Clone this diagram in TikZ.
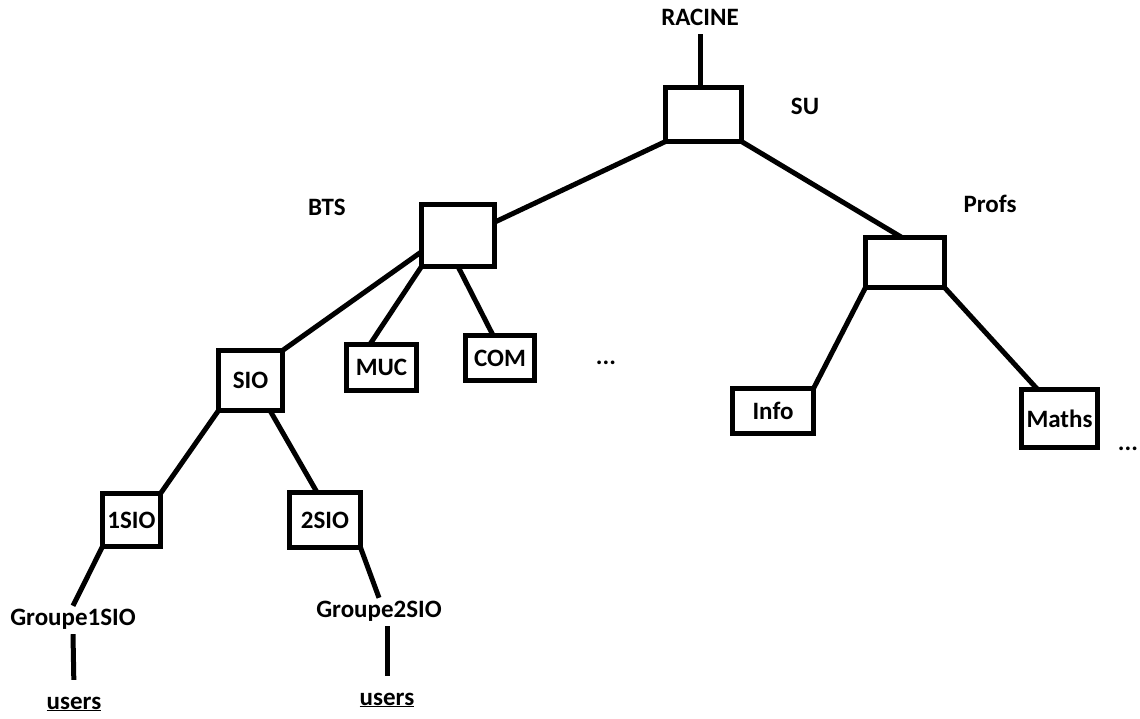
\documentclass[tikz,border=0pt]{standalone}
\usepackage{fontspec}
\setmainfont{Carlito}
\begin{document}
\begin{tikzpicture}[x=1pt,y=-1pt,
  every node/.style={font=\fontsize{25}{29}\selectfont\bfseries},
  box/.style={draw,line width=5pt,inner sep=0pt,outer sep=0pt},
  lbl/.style={inner sep=3pt,text height=16pt,text depth=6pt},
  link/.style={line width=5pt}]
\useasboundingbox (0,0) rectangle (1140,718);
% root
\node[lbl] (racine) at (700,20) {RACINE};
\node[box,minimum width=76pt,minimum height=54pt] (su) at (703.5,114.5) {};
\node[lbl] (sulbl) at (805,109) {SU};
% BTS branch
\node[box,minimum width=73pt,minimum height=62pt] (bts) at (458,235.5) {};
\node[lbl] (btslbl) at (327,210) {BTS};
\node[box,minimum width=64pt,minimum height=60pt] (sio) at (250.5,380.5) {SIO};
\node[box,minimum width=70pt,minimum height=46pt] (muc) at (381.5,367.5) {MUC};
\node[box,minimum width=69pt,minimum height=45pt] (com) at (500,358) {COM};
\node[lbl,anchor=base] (dots1) at (606,364) {...};
% SIO years
\node[box,minimum width=58pt,minimum height=53pt] (sio1) at (131.5,520) {1SIO};
\node[box,minimum width=71pt,minimum height=55pt] (sio2) at (325,520) {2SIO};
\node[lbl,anchor=base] (grp1) at (73,625) {Groupe1SIO};
\node[lbl,anchor=base] (grp2) at (379,617) {Groupe2SIO};
\node[lbl,anchor=base] (usr1) at (74,709) {\underline{users}};
\node[lbl,anchor=base] (usr2) at (387,705) {\underline{users}};
% Profs branch
\node[box,minimum width=79pt,minimum height=50pt] (profs) at (905,262.5) {};
\node[lbl] (profslbl) at (990,207) {Profs};
\node[box,minimum width=81pt,minimum height=45pt] (info) at (773,411) {Info};
\node[box,minimum width=76pt,minimum height=58pt] (maths) at (1059.5,418.5) {Maths};
\node[lbl,anchor=base] (dots2) at (1128,450) {...};
% lines
\draw[link] (racine.south) -- (racine.south |- su.north);
\draw[link] (su.south west) -- (bts.20);
\draw[link] (su.south east) -- (profs.97);
\draw[link] (bts.204) -- (sio.north east);
\draw[link] (bts.south west) -- (muc.117);
\draw[link] (bts.south) -- (com.107);
\draw[link] (sio.south west) -- (sio1.north east);
\draw[link] (sio.303) -- (sio2.106);
\draw[link] (sio1.south west) -- (grp1.north);
\draw[link] (sio2.south east) -- (grp2.north);
\draw[link,shorten >=10pt] (grp1.south) -- (usr1.north);
\draw[link,shorten >=10pt] (usr2.north |- grp2.south) -- (usr2.north);
\draw[link] (profs.south west) -- (info.north east);
\draw[link] (profs.south east) -- (maths.127);
\end{tikzpicture}
\end{document}
